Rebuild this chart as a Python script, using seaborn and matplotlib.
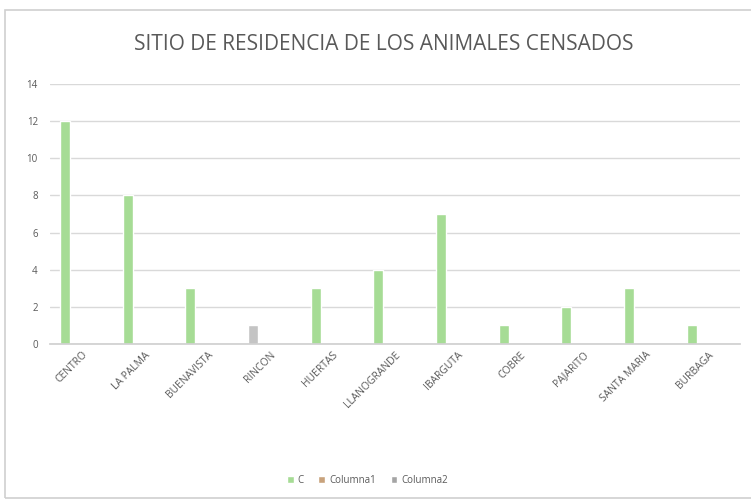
import matplotlib
matplotlib.use("Agg")
import matplotlib.pyplot as plt
import seaborn as sns
import pandas as pd
from matplotlib.patches import Rectangle

sns.set_theme(style="white")
plt.rcParams['font.family'] = ['Open Sans', 'DejaVu Sans']

# data
sitios = ['CENTRO', 'LA PALMA', 'BUENAVISTA', 'RINCON', 'HUERTAS', 'LLANOGRANDE',
          'IBARGUTA', 'COBRE', 'PAJARITO', 'SANTA MARIA', 'BURBAGA']
serie_c = [12, 8, 3, 1, 3, 4, 7, 1, 2, 3, 1]
columna1 = [0, 0, 0, 0, 0, 0, 0, 0, 0, 0, 0]
columna2 = [0, 0, 0, 0, 0, 0, 0, 0, 0, 0, 0]
series = ['C', 'Columna1', 'Columna2']
colores = ['#a6dc95', '#c8a27c', '#a5a5a5']

df = pd.DataFrame({
    'sitio': sitios * 3,
    'serie': ['C'] * 11 + ['Columna1'] * 11 + ['Columna2'] * 11,
    'valor': serie_c + columna1 + columna2,
})

fig = plt.figure(figsize=(7.51, 5), dpi=100)
ax = fig.add_axes([0.067, 0.312, 0.918, 0.52])

sns.barplot(data=df, x='sitio', y='valor', hue='serie', hue_order=series,
            palette=colores, order=sitios, width=0.8, gap=0.4, ax=ax,
            legend=True, saturation=1)

# the RINCON bar appears grey in the original
ax.containers[0][3].set_facecolor('#c4c4c4')

ax.set_ylim(0, 14)
ax.set_yticks(range(0, 15, 2))
ax.yaxis.grid(True, color='#d9d9d9', linewidth=1)
ax.set_axisbelow(True)
for s in ['top', 'right', 'left']:
    ax.spines[s].set_visible(False)
ax.spines['bottom'].set_color('#d0d0d0')
ax.set_xlabel('')
ax.set_ylabel('')
ax.tick_params(axis='y', labelsize=7, labelcolor='#595959', length=0, pad=9)
ax.tick_params(axis='x', labelsize=7.5, labelcolor='#595959', length=0, pad=4)
plt.setp(ax.get_xticklabels(), rotation=45, ha='right', rotation_mode='anchor')

fig.text(0.511, 0.91, 'SITIO DE RESIDENCIA DE LOS ANIMALES CENSADOS',
         ha='center', va='center', fontsize=15, color='#595959')

leg = ax.legend(loc='center', bbox_to_anchor=(0.46, -0.525), ncol=3, frameon=False,
                fontsize=7, handlelength=0.7, handleheight=0.7, columnspacing=1.5,
                handletextpad=0.4, labelcolor='#595959')

fig.patches.append(Rectangle((0.007, 0.005), 1.0, 0.975, transform=fig.transFigure,
                             fill=False, edgecolor='#d0d0d0', linewidth=1.2))

fig.savefig('out.png', dpi=100)
